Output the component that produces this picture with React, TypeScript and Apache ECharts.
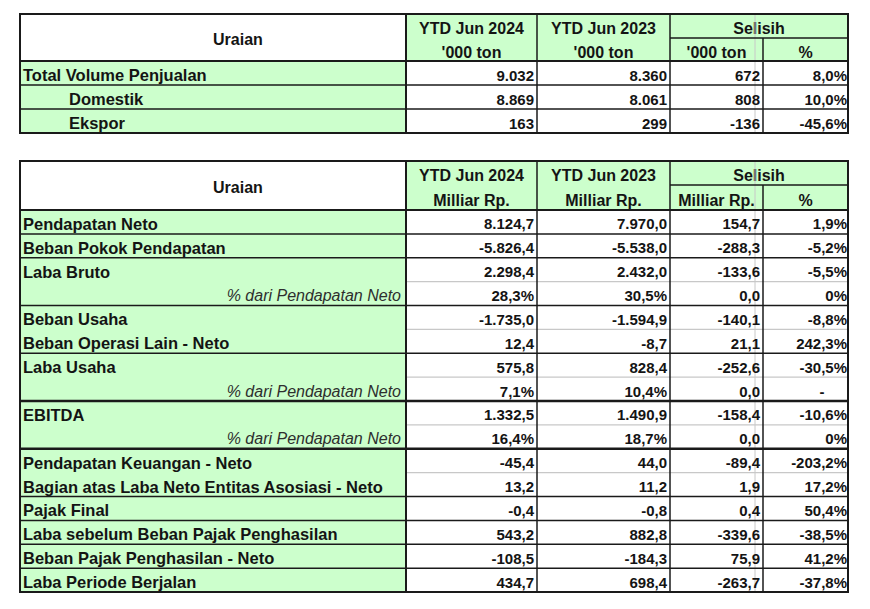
import React, { useEffect, useRef } from "react";
import * as echarts from "echarts";

// ---------- DATA ----------
const volLabels = ["Total Volume Penjualan", "Domestik", "Ekspor"];
const volLevel = [0, 1, 1];
const volYtd2024 = [9032, 8869, 163];
const volYtd2023 = [8360, 8061, 299];
const volDiff = [672, 808, -136];
const volPct = [8.0, 10.0, -45.6];

const colHeaders = ["YTD Jun 2024", "YTD Jun 2023"];
const diffHeader = "Selisih";
const volUnit = "'000 ton";
const finUnit = "Milliar Rp.";
const firstHeader = "Uraian";

const finLabels = [
  "Pendapatan Neto",
  "Beban Pokok Pendapatan",
  "Laba Bruto",
  "% dari Pendapatan Neto",
  "Beban Usaha",
  "Beban Operasi Lain - Neto",
  "Laba Usaha",
  "% dari Pendapatan Neto",
  "EBITDA",
  "% dari Pendapatan Neto",
  "Pendapatan Keuangan - Neto",
  "Bagian atas Laba Neto Entitas Asosiasi - Neto",
  "Pajak Final",
  "Laba sebelum Beban Pajak Penghasilan",
  "Beban Pajak Penghasilan - Neto",
  "Laba Periode Berjalan",
];
// "v" = value row, "r" = ratio row (% of revenue)
const finKind = ["v", "v", "v", "r", "v", "v", "v", "r", "v", "r", "v", "v", "v", "v", "v", "v"];
const finGroup = [0, 1, 2, 2, 3, 3, 4, 4, 5, 5, 6, 6, 7, 8, 9, 10];
const finYtd2024 = [8124.7, -5826.4, 2298.4, 28.3, -1735.0, 12.4, 575.8, 7.1, 1332.5, 16.4, -45.4, 13.2, -0.4, 543.2, -108.5, 434.7];
const finYtd2023 = [7970.0, -5538.0, 2432.0, 30.5, -1594.9, -8.7, 828.4, 10.4, 1490.9, 18.7, 44.0, 11.2, -0.8, 882.8, -184.3, 698.4];
const finDiff = [154.7, -288.3, -133.6, 0.0, -140.1, 21.1, -252.6, 0.0, -158.4, 0.0, -89.4, 1.9, 0.4, -339.6, 75.9, -263.7];
const finPct: (number | null)[] = [1.9, -5.2, -5.5, 0, -8.8, 242.3, -30.5, null, -10.6, 0, -203.2, 17.2, 50.4, -38.5, 41.2, -37.8];

// ---------- FORMAT ----------
function fmt(n: number, dec: number): string {
  const s = Math.abs(n).toFixed(dec);
  const [ip, dp] = s.split(".");
  const withSep = ip.replace(/\B(?=(\d{3})+(?!\d))/g, ".");
  const sign = n < 0 ? "-" : "";
  return sign + withSep + (dp !== undefined ? "," + dp : "");
}

// ---------- LAYOUT ----------
const FONT = '"Liberation Sans", Arial, Helvetica, sans-serif';
const GREEN = "#ccffcc";
const INK = "#141414";
const LINE = "#1a1a1a";
const GREY = "#c8c8c8";
const X = [20, 406, 537, 670, 763, 848];
const LABEL_SIZE = 16.5;

function rect(x: number, y: number, w: number, h: number, fill: string) {
  return { type: "rect", silent: true, shape: { x, y, width: w, height: h }, style: { fill } };
}
function line(x1: number, y1: number, x2: number, y2: number, stroke: string, lw: number) {
  return { type: "line", silent: true, shape: { x1, y1, x2, y2 }, style: { stroke, lineWidth: lw } };
}
function text(
  x: number,
  y: number,
  str: string,
  o: { align?: string; size?: number; bold?: boolean; italic?: boolean; color?: string } = {}
) {
  const align = o.align || "left";
  return {
    type: "text",
    silent: true,
    x,
    y,
    style: {
      text: str,
      fill: o.color || INK,
      fontFamily: FONT,
      fontSize: o.size || 16,
      fontWeight: o.bold === false ? "normal" : "bold",
      fontStyle: o.italic ? "italic" : "normal",
      align,
      textAlign: align,
      verticalAlign: "middle",
      textVerticalAlign: "middle",
    },
  };
}

function buildHeader(els: any[], top: number, split: number, bottom: number, unit: string) {
  els.push(rect(X[0], top, X[1] - X[0], bottom - top, "#ffffff"));
  els.push(rect(X[1], top, X[5] - X[1], bottom - top, GREEN));
  els.push(text((X[0] + X[1]) / 2, (top + bottom) / 2 + 2, firstHeader));
  const y1 = (top + split) / 2 + 2;
  const y2 = (split + bottom) / 2 + 2.5;
  for (let i = 0; i < 2; i++) {
    const cx = (X[1 + i] + X[2 + i]) / 2;
    els.push(text(cx, y1, colHeaders[i], { align: "center" }));
    els.push(text(cx, y2, unit, { align: "center" }));
  }
  els.push(text((X[3] + X[5]) / 2, y1, diffHeader, { align: "center" }));
  els.push(text((X[3] + X[4]) / 2, y2, unit, { align: "center" }));
  els.push(text((X[4] + X[5]) / 2, y2, "%", { align: "center" }));
}

function buildTable1(els: any[]) {
  const top = 14, split = 38, hb = 61, rh = 24;
  const n = volLabels.length;
  const bottom = hb + rh * n;
  buildHeader(els, top, split, hb, volUnit);
  els.push(rect(X[0], hb, X[1] - X[0], bottom - hb, GREEN));
  els.push(rect(X[1], hb, X[5] - X[1], bottom - hb, "#ffffff"));
  els.push(line(755, top, 755, bottom, GREY, 1));
  for (let i = 0; i < n; i++) {
    const cy = hb + rh * i + rh / 2 + 2;
    els.push(text(volLevel[i] ? 69 : 23, cy, volLabels[i], { size: LABEL_SIZE }));
    els.push(text(X[2] - 3, cy, fmt(volYtd2024[i], 0), { align: "right", size: 15 }));
    els.push(text(X[3] - 3, cy, fmt(volYtd2023[i], 0), { align: "right", size: 15 }));
    els.push(text(X[4] - 3, cy, fmt(volDiff[i], 0), { align: "right", size: 15 }));
    els.push(text(X[5] - 1, cy, fmt(volPct[i], 1) + "%", { align: "right", size: 15 }));
    if (i > 0) els.push(line(X[0], hb + rh * i, X[5], hb + rh * i, LINE, 1.5));
  }
  els.push(line(X[1], top, X[1], bottom, LINE, 2));
  els.push(line(X[2], top, X[2], bottom, LINE, 1.5));
  els.push(line(X[3], top, X[3], bottom, LINE, 1.5));
  els.push(line(X[4], split, X[4], bottom, LINE, 1.5));
  els.push(line(X[3], split, X[5], split, LINE, 1.5));
  els.push(line(X[0], hb, X[5], hb, LINE, 2));
  els.push({ type: "rect", silent: true, shape: { x: X[0], y: top, width: X[5] - X[0], height: bottom - top }, style: { fill: "none", stroke: LINE, lineWidth: 2 } });
}

function buildTable2(els: any[]) {
  const top = 161, split = 185, hb = 210, rh = 23.875;
  const n = finLabels.length;
  const bottom = hb + rh * n;
  buildHeader(els, top, split, hb, finUnit);
  els.push(rect(X[0], hb, X[1] - X[0], bottom - hb, GREEN));
  els.push(rect(X[1], hb, X[5] - X[1], bottom - hb, "#ffffff"));
  els.push(line(755, top, 755, bottom, GREY, 1));
  const blackLines: any[] = [];
  for (let i = 0; i < n; i++) {
    const y0 = hb + rh * i;
    const cy = y0 + rh / 2 + 2;
    const ratio = finKind[i] === "r";
    if (ratio) {
      els.push(text(X[1] - 5, cy, finLabels[i], { align: "right", bold: false, italic: true, color: "#2e2e2e" }));
      els.push(text(X[2] - 3, cy, fmt(finYtd2024[i], 1) + "%", { align: "right", size: 15 }));
      els.push(text(X[3] - 3, cy, fmt(finYtd2023[i], 1) + "%", { align: "right", size: 15 }));
      els.push(text(X[4] - 3, cy, fmt(finDiff[i], 1), { align: "right", size: 15 }));
      const p = finPct[i];
      if (p === null) els.push(text(822, cy, "-", { align: "center", size: 15 }));
      else els.push(text(X[5] - 1, cy, fmt(p, 0) + "%", { align: "right", size: 15 }));
    } else {
      els.push(text(23, cy, finLabels[i], { size: LABEL_SIZE }));
      els.push(text(X[2] - 3, cy, fmt(finYtd2024[i], 1), { align: "right", size: 15 }));
      els.push(text(X[3] - 3, cy, fmt(finYtd2023[i], 1), { align: "right", size: 15 }));
      els.push(text(X[4] - 3, cy, fmt(finDiff[i], 1), { align: "right", size: 15 }));
      const p = finPct[i];
      els.push(text(X[5] - 1, cy, p === null ? "-" : fmt(p, 1) + "%", { align: "right", size: 15 }));
    }
    if (i > 0) {
      if (finGroup[i] === finGroup[i - 1]) {
        els.push(line(X[1], y0, X[5], y0, GREY, 1.2));
      } else {
        const thick = finGroup[i] === 5 || finGroup[i - 1] === 5;
        blackLines.push(line(X[0], y0, X[5], y0, LINE, thick ? 2.5 : 1.5));
      }
    }
  }
  blackLines.forEach((l) => els.push(l));
  els.push(line(X[1], top, X[1], bottom, LINE, 2));
  els.push(line(X[2], top, X[2], bottom, LINE, 1.5));
  els.push(line(X[3], top, X[3], bottom, LINE, 1.5));
  els.push(line(X[4], split, X[4], bottom, LINE, 1.5));
  els.push(line(X[3], split, X[5], split, LINE, 1.5));
  els.push(line(X[0], hb, X[5], hb, LINE, 2));
  els.push({ type: "rect", silent: true, shape: { x: X[0], y: top, width: X[5] - X[0], height: bottom - top }, style: { fill: "none", stroke: LINE, lineWidth: 2 } });
}

export default function App() {
  const ref = useRef<HTMLDivElement>(null);
  useEffect(() => {
    if (!ref.current) return;
    const chart = echarts.init(ref.current, undefined, { renderer: "svg" });
    const els: any[] = [];
    buildTable1(els);
    buildTable2(els);
    chart.setOption({
      animation: false,
      backgroundColor: "#ffffff",
      graphic: { elements: els },
    });
    return () => chart.dispose();
  }, []);
  return (
    <div
      ref={ref}
      style={{ position: "absolute", left: 0, top: 0, width: 870, height: 609, background: "#fff" }}
    />
  );
}
